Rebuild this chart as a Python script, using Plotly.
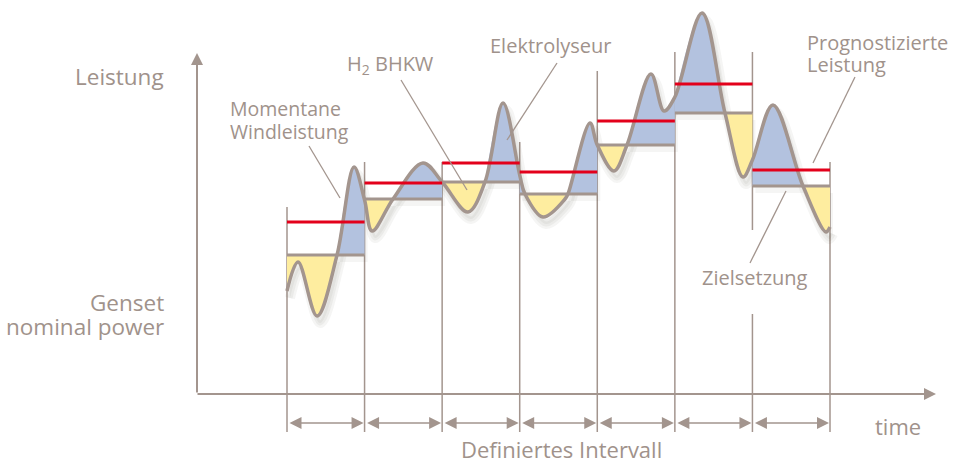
import plotly.graph_objects as go

# ---------------- data ----------------
# time axis: interval index (0..7), power in arbitrary units
interval_bounds = [0, 1, 2, 3, 4, 5, 6, 7]
target_level = [13.9, 19.5, 21.2, 20.0, 24.9, 28.1, 20.8]      # Zielsetzung (grey)
forecast_level = [17.2, 21.1, 23.1, 22.2, 27.3, 31.0, 22.4]    # Prognostizierte Leistung (red)

# momentane Windleistung (key points)
wind_t = [0, 0.142, 0.387, 0.645, 0.864, 1.0, 1.097, 1.367, 1.753, 2.0, 2.333, 2.552, 2.785,
          3.0, 3.068, 3.300, 3.584, 3.622, 3.906, 4.0, 4.215, 4.383, 4.692, 4.860,
          5.0, 5.350, 5.646, 5.878, 6.0, 6.265, 6.652, 6.948, 7.0]
wind_p = [10.3, 13.2, 7.8, 13.9, 22.7, 19.4, 16.3, 19.5, 23.1, 21.2, 18.2, 21.2, 29.1,
          21.9, 20.0, 17.7, 19.5, 20.0, 27.1, 24.9, 22.3, 24.9, 32.0, 28.3,
          29.7, 38.1, 28.1, 21.7, 23.4, 28.9, 20.8, 16.2, 16.7]

# ---------------- style ----------------
W, H = 955, 465
GREY = '#a3958e'
TXT = '#a0928b'
BLUE = '#b3c2df'
YELLOW = '#feed9f'
RED = '#e3001b'
SHADOW = 'rgba(60,50,45,0.05)'
FONT = 'Open Sans'

X0_PX, UNIT_PX = 287, 77.571   # pixel of t=0, pixels per interval
AX_PX, P_SCALE = 394, 10.0     # pixel of P=0, pixels per unit
SH_DX, SH_DY = 3 / UNIT_PX, -7 / P_SCALE   # drop-shadow offset

x_range = [(0 - X0_PX) / UNIT_PX, (W - X0_PX) / UNIT_PX]
y_range = [(AX_PX - H) / P_SCALE, (AX_PX - 0) / P_SCALE]


def PX(x):
    return x / W


def PY(y):
    return 1 - y / H


fig = go.Figure()

# ---------------- segments between wind curve and target ----------------
n = len(wind_t)
segments = []
for i in range(len(target_level)):
    g = target_level[i]
    lo, hi = interval_bounds[i], interval_bounds[i + 1]
    idx = [k for k in range(n) if lo - 1e-9 <= wind_t[k] <= hi + 1e-9]
    seg = [idx[0]]
    for k in idx[1:]:
        seg.append(k)
        if abs(wind_p[k] - g) < 0.05 and k != idx[-1]:
            segments.append((g, seg))
            seg = [k]
    segments.append((g, seg))


def add_fill(ts, ps, g, col):
    fig.add_trace(go.Scatter(x=[ts[0], ts[-1]], y=[g, g], mode='lines',
                             line=dict(width=0), hoverinfo='skip', showlegend=False))
    fig.add_trace(go.Scatter(x=ts, y=ps, mode='lines',
                             line=dict(width=0, shape='spline'),
                             fill='tonexty', fillcolor=col,
                             hoverinfo='skip', showlegend=False))


# soft drop shadow (offset copy)
for g, s in segments:
    add_fill([wind_t[k] + SH_DX for k in s], [wind_p[k] + SH_DY for k in s], g + SH_DY, SHADOW)
for w in (10, 5):
    fig.add_trace(go.Scatter(x=[t + SH_DX for t in wind_t], y=[p + SH_DY for p in wind_p],
                             mode='lines', line=dict(color=SHADOW, width=w, shape='spline'),
                             hoverinfo='skip', showlegend=False))

# coloured fills
for g, s in segments:
    ts = [wind_t[k] for k in s]
    ps = [wind_p[k] for k in s]
    col = BLUE if sum(p - g for p in ps) > 0 else YELLOW
    add_fill(ts, ps, g, col)

# target lines (grey)
tx, ty = [], []
for i, g in enumerate(target_level):
    tx += [interval_bounds[i], interval_bounds[i + 1], None]
    ty += [g, g, None]
fig.add_trace(go.Scatter(x=tx, y=ty, mode='lines', line=dict(color=GREY, width=3),
                         hoverinfo='skip', showlegend=False))

# wind curve
fig.add_trace(go.Scatter(x=wind_t, y=wind_p, mode='lines',
                         line=dict(color=GREY, width=3.5, shape='spline'),
                         hoverinfo='skip', showlegend=False))

# forecast lines (red)
fx, fy = [], []
for i, f in enumerate(forecast_level):
    fx += [interval_bounds[i], interval_bounds[i + 1], None]
    fy += [f, f, None]
fig.add_trace(go.Scatter(x=fx, y=fy, mode='lines', line=dict(color=RED, width=3),
                         hoverinfo='skip', showlegend=False))

shapes = []
# interval boundary lines (pixel extents are layout)
bound_tops = [207, 162, 162, 142, 71, 52, 52, 162]
for b, top in zip(interval_bounds, bound_tops):
    if b == 6:
        segs = [(top, 230), (314, 432)]
    else:
        segs = [(top, 432)]
    for y_top, y_bot in segs:
        shapes.append(dict(type='line', xref='x', yref='paper', x0=b, x1=b,
                           y0=PY(y_bot), y1=PY(y_top), line=dict(color=GREY, width=1.5),
                           layer='below'))

# leader lines
leaders = [((309, 146), (340, 198)), ((401, 80), (467, 190)), ((557, 63), (507, 140)),
           ((855, 77), (813, 163)), ((786, 191), (750, 263))]
for (xa, ya), (xb, yb) in leaders:
    shapes.append(dict(type='line', xref='paper', yref='paper', x0=PX(xa), y0=PY(ya),
                       x1=PX(xb), y1=PY(yb), line=dict(color=GREY, width=1.3)))

annotations = []
# axes with arrows
annotations.append(dict(xref='paper', yref='paper', x=PX(197), y=PY(53), ax=0, ay=341,
                        showarrow=True, arrowhead=2, arrowwidth=2, arrowsize=1.2,
                        arrowcolor=GREY, text=''))
annotations.append(dict(xref='paper', yref='paper', x=PX(936), y=PY(394), ax=-740, ay=0,
                        showarrow=True, arrowhead=2, arrowwidth=2, arrowsize=1.2,
                        arrowcolor=GREY, text=''))
# dimension arrows per interval
for i in range(len(interval_bounds) - 1):
    annotations.append(dict(xref='x', yref='paper', x=interval_bounds[i + 1], y=PY(423),
                            axref='x', ayref='pixel', ax=interval_bounds[i], ay=0,
                            showarrow=True, arrowhead=2, arrowside='end+start',
                            startarrowhead=2, arrowwidth=1.5, arrowsize=1.6,
                            startarrowsize=1.6, arrowcolor=GREY, standoff=1,
                            startstandoff=1, text=''))


def label(text, x, y, size, xanchor='left'):
    annotations.append(dict(xref='paper', yref='paper', x=PX(x), y=PY(y), text=text,
                            showarrow=False, xanchor=xanchor, yanchor='middle',
                            font=dict(family=FONT, size=size, color=TXT)))


label('Leistung', 166, 77, 22.5, 'right')
label('Genset', 166, 302, 22.5, 'right')
label('nominal power', 166, 326, 22.5, 'right')
label('Momentane', 228, 109, 19.5)
label('Windleistung', 228, 131, 19.5)
label('H<sub>2</sub> BHKW', 345, 64, 20)
label('Elektrolyseur', 488, 45, 20)
label('Prognostizierte', 805, 42, 20)
label('Leistung', 805, 64, 20)
label('Zielsetzung', 700, 277, 20)
label('time', 873, 426, 22)
label('Definiertes Intervall', 561, 449, 22, 'center')

fig.update_layout(
    width=W, height=H, margin=dict(l=0, r=0, t=0, b=0),
    paper_bgcolor='white', plot_bgcolor='white',
    xaxis=dict(range=x_range, visible=False, fixedrange=True),
    yaxis=dict(range=y_range, visible=False, fixedrange=True),
    shapes=shapes, annotations=annotations, showlegend=False,
)

fig.write_html('out.html', config={'displayModeBar': False},
               post_script="document.body.style.margin='0px';document.body.style.overflow='hidden';")
